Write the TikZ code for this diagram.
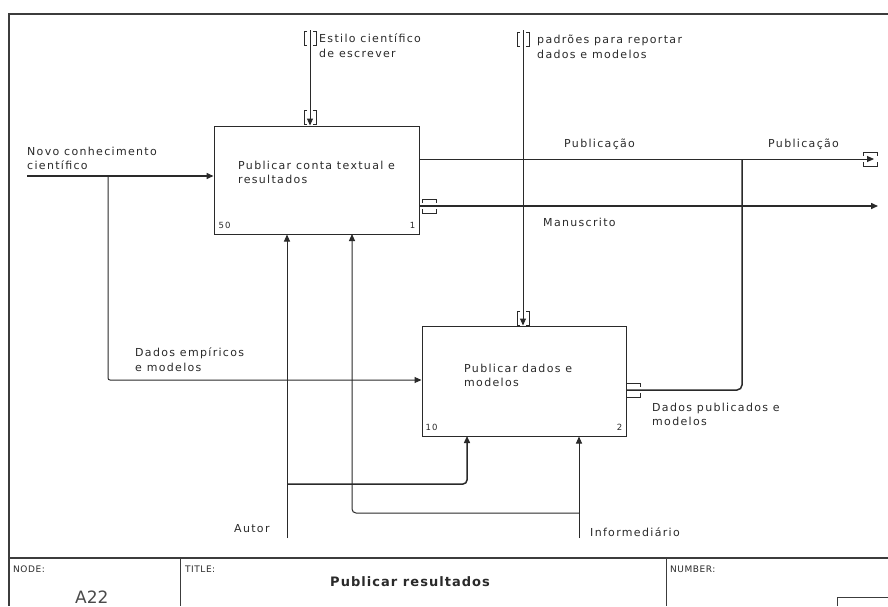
\documentclass[tikz,border=0pt]{standalone}
\usepackage{fontspec}
\setmainfont{DejaVu Sans}[LetterSpace=12]
\newfontfamily\plainsans{DejaVu Sans}
\usetikzlibrary{arrows.meta}

\definecolor{ink}{HTML}{2A2A2A}
\definecolor{rule}{HTML}{3C3C3C}

\tikzset{
  actbox/.style={draw=ink, line width=1pt, fill=white, inner sep=0pt,
    minimum width=205pt, minimum height=108pt},
  lbl/.style={font=\fontsize{11}{14.8}\selectfont, text=ink, inner sep=0pt,
    align=left},
  num/.style={font=\fontsize{8.5}{10}\selectfont, text=ink, inner sep=0pt},
  wire/.style={draw=ink, line width=1pt},
  thick wire/.style={draw=ink, line width=1.5pt},
  tip/.style={-{Triangle[length=7pt,width=6pt]}},
  tun/.style={draw=ink, line width=0.9pt},
  vtunnel/.pic={\draw[tun] (-3,-7) -- (-6,-7) -- (-6,7) -- (-3,7)
                           (3,-7) -- (6,-7) -- (6,7) -- (3,7);},
  htunnel/.pic={\draw[tun] (-7,-3) -- (-7,-7) -- (7,-7) -- (7,-3)
                           (-7,3) -- (-7,7) -- (7,7) -- (7,3);},
  blockhead/.style={font=\plainsans\addfontfeature{LetterSpace=6}\fontsize{9}{10}\selectfont,
    text=ink, inner sep=0pt, anchor=base west},
}

\begin{document}
\begin{tikzpicture}[x=1pt,y=-1pt]
\useasboundingbox (0,0) rectangle (888,606);
\fill[white] (0,0) rectangle (888,606);

% sheet frame and title block
\draw[rule, line width=1.6pt] (888,14) -- (9,14) -- (9,606);
\draw[rule, line width=1.6pt] (9,558) -- (888,558);
\draw[rule, line width=1pt] (180,558) -- (180,606);
\draw[rule, line width=1pt] (666,558) -- (666,606);
\draw[rule, line width=1pt] (888,597) -- (837,597) -- (837,606);

\node[blockhead] (hnode) at (13,572) {NODE:};
\node[blockhead] (htitle) at (185,572) {TITLE:};
\node[blockhead] (hnumber) at (670,572) {NUMBER:};
\node[font=\plainsans\fontsize{17}{18}\selectfont, text=ink!85, inner sep=0pt,
      anchor=base west] (nodeid) at (75,603) {A22};
\node[font=\addfontfeature{LetterSpace=8}\fontsize{13}{14}\selectfont\bfseries,
      text=ink, inner sep=0pt, anchor=base west] (title) at (330,586)
      {Publicar resultados};

% activity boxes
\node[actbox] (b1) at (316.5,180) {};
\node[actbox, minimum width=204pt, minimum height=110pt] (b2) at (524,381) {};

\node[lbl, anchor=north west] (t1) at (238,160.6) {Publicar conta textual e\\resultados};
\node[lbl, anchor=north west] (t2) at (464,363.6) {Publicar dados e\\modelos};
\node[num, anchor=base west] (n1a) at ([shift={(5,-6)}]b1.south west) {50};
\node[num, anchor=base east] (n1b) at ([shift={(-4,-6)}]b1.south east) {1};
\node[num, anchor=base west] (n2a) at ([shift={(4,-6)}]b2.south west) {10};
\node[num, anchor=base east] (n2b) at ([shift={(-4,-6)}]b2.south east) {2};

% free ends and branch points
\coordinate (in1) at (27,176);
\coordinate (ctl1) at (310,30);
\coordinate (ctl2) at (523,30);
\coordinate (out1) at (874,159);
\coordinate (out2) at (878,206);
\coordinate (mec1) at (287,538);
\coordinate (mec2) at (579,538);
\coordinate (split1) at (108,176);
\coordinate (split2) at (287,484);
\coordinate (split3) at (579,513);
\coordinate (merge1) at (742,159);

% inputs
\draw[thick wire, tip] (in1) -- (b1.west |- in1);
\draw[wire, tip, rounded corners=2pt] (split1) -- (108,380) -- (b2.west |- 0,380);

% controls
\draw[wire, tip] (ctl1) -- (ctl1 |- b1.north);
\pic at (310,38) {vtunnel};
\pic at (310,117) {vtunnel};
\draw[wire, tip] (ctl2) -- (ctl2 |- b2.north);
\pic at (523,39) {vtunnel};
\pic at (523,318) {vtunnel};

% outputs
\draw[wire, tip] (b1.east |- out1) -- (out1);
\pic at (870,159) {htunnel};
\draw[thick wire, tip] (b1.east |- out2) -- (out2);
\pic at (429,206) {htunnel};
\draw[thick wire, rounded corners=5pt] (b2.east |- 0,390) -- (merge1 |- 0,390) -- (merge1);
\pic at (633,390) {htunnel};

% mechanisms
\draw[wire, tip] (mec1) -- (mec1 |- b1.south);
\draw[thick wire, tip, rounded corners=4pt] (split2) -- (467,484) -- (467,436);
\draw[wire, tip] (mec2) -- (mec2 |- b2.south);
\draw[wire, tip, rounded corners=4pt] (split3) -- (352,513) -- (352,234);

% arrow labels
\node[lbl, anchor=north west] (l_in1) at (27,146.6) {Novo conhecimento\\científico};
\node[lbl, anchor=north west] (l_in2) at (135,347.6) {Dados empíricos\\e modelos};
\node[lbl, anchor=north west] (l_ctl1) at (319,33.6) {Estilo científico\\de escrever};
\node[lbl, anchor=north west] (l_ctl2) at (537,34.6) {padrões para reportar\\dados e modelos};
\node[lbl, anchor=base west] (l_out1a) at (564,147) {Publicação};
\node[lbl, anchor=base west] (l_out1b) at (768,147) {Publicação};
\node[lbl, anchor=base west] (l_out2) at (543,226) {Manuscrito};
\node[lbl, anchor=north west] (l_out3) at (652,402.6) {Dados publicados e\\modelos};
\node[lbl, anchor=base west] (l_mec1) at (234,532) {Autor};
\node[lbl, anchor=base west] (l_mec2) at (590,536) {Informediário};
\end{tikzpicture}
\end{document}
